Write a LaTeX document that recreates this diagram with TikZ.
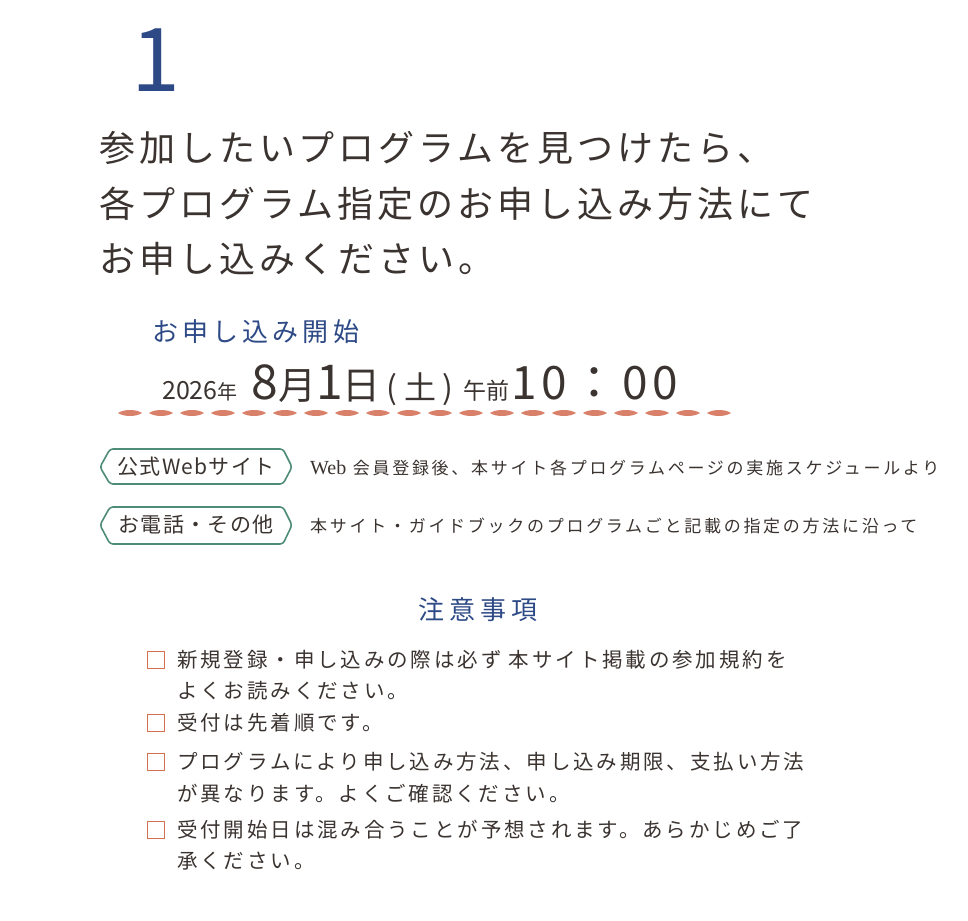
\documentclass[tikz,border=0pt]{standalone}
\usepackage{fontspec}
\setmainfont{Noto Sans CJK JP}
\newfontfamily\lat{Liberation Serif}
\newcommand{\ls}[1]{\addfontfeatures{LetterSpace=#1}}
\definecolor{ink}{HTML}{3A3330}
\definecolor{navy}{HTML}{2E4A86}
\definecolor{rust}{HTML}{D9806A}
\definecolor{grn}{HTML}{4E8C76}
\definecolor{boxc}{HTML}{D07050}
\begin{document}
\begin{tikzpicture}[x=1pt,y=-1pt,
  every node/.style={inner sep=0pt,text=ink},
  head/.style={anchor=west,font=\fontsize{36}{36}\selectfont\ls{11}},
  tag/.style={draw=grn,line width=1.6pt,rounded corners=3pt},
  desc/.style={anchor=west,font=\fontsize{17}{17}\selectfont\ls{16}},
  item/.style={anchor=west,font=\fontsize{20.5}{21}\selectfont\ls{14}},
  chk/.style={draw=boxc,line width=1.2pt,minimum size=17pt,inner sep=0pt}]
\useasboundingbox (0,0) rectangle (968,920);
\node[text=navy,font=\fontsize{88}{88}\selectfont] (num) at (156,60) {1};
\node[head] (h1) at (99,148) {参加したいプログラムを見つけたら、};
\node[head] (h2) at (99,204) {各プログラム指定のお申し込み方法にて};
\node[head] (h3) at (99,259) {お申し込みください。};
\node[anchor=west,text=navy,font=\fontsize{26}{26}\selectfont\ls{16}] (st) at (152,332) {お申し込み開始};
\node[anchor=base west,font=\fontsize{25}{25}\selectfont] (date) at (162,399)
 {2026{\fontsize{20}{20}\selectfont 年}\hspace{14pt}{\fontsize{48}{48}\selectfont 8}{\fontsize{38}{38}\selectfont 月}{\fontsize{48}{48}\selectfont 1}{\fontsize{38}{38}\selectfont 日}\hspace{6pt}{\fontsize{32}{32}\selectfont\ls{20} (土)}\hspace{10pt}{\fontsize{23}{23}\selectfont 午前}\hspace{2pt}{\fontsize{46}{46}\selectfont\ls{10} 10：00}};
\foreach \i in {0,...,19}{
  \fill[rust] (118+31*\i,413) .. controls (124+31*\i,409) and (136+31*\i,409) .. (142+31*\i,413)
     .. controls (136+31*\i,417) and (124+31*\i,417) .. (118+31*\i,413);}
\draw[tag] (100,467) -- (110,449) -- (283,449) -- (292,467) -- (283,484) -- (110,484) -- cycle;
\node[font=\fontsize{21}{21}\selectfont\ls{6}] (t1) at (196,467) {公式Webサイト};
\draw[tag] (100,525) -- (110,507) -- (283,507) -- (292,525) -- (283,544) -- (110,544) -- cycle;
\node[font=\fontsize{21}{21}\selectfont\ls{6}] (t2) at (196,525) {お電話・その他};
\node[desc] (d1) at (310,468) {{\lat\fontsize{20}{20}\selectfont Web} 会員登録後、本サイト各プログラムページの実施スケジュールより};
\node[desc] (d2) at (310,526) {本サイト・ガイドブックのプログラムごと記載の指定の方法に沿って};
\node[text=navy,font=\fontsize{26}{26}\selectfont\ls{18}] (nt) at (478,610) {注意事項};
\node[chk] (c1) at (156,660) {};
\node[item] (i1) at (177,660) {新規登録・申し込みの際は必ず 本サイト掲載の参加規約を};
\node[item] (i1b) at (177,691) {よくお読みください。};
\node[chk] (c2) at (156,723) {};
\node[item] (i2) at (177,723) {受付は先着順です。};
\node[chk] (c3) at (156,762) {};
\node[item] (i3) at (177,762) {プログラムにより申し込み方法、申し込み期限、支払い方法};
\node[item] (i3b) at (177,794) {が異なります。よくご確認ください。};
\node[chk] (c4) at (156,830) {};
\node[item] (i4) at (177,830) {受付開始日は混み合うことが予想されます。あらかじめご了};
\node[item] (i4b) at (177,861) {承ください。};
\end{tikzpicture}
\end{document}
